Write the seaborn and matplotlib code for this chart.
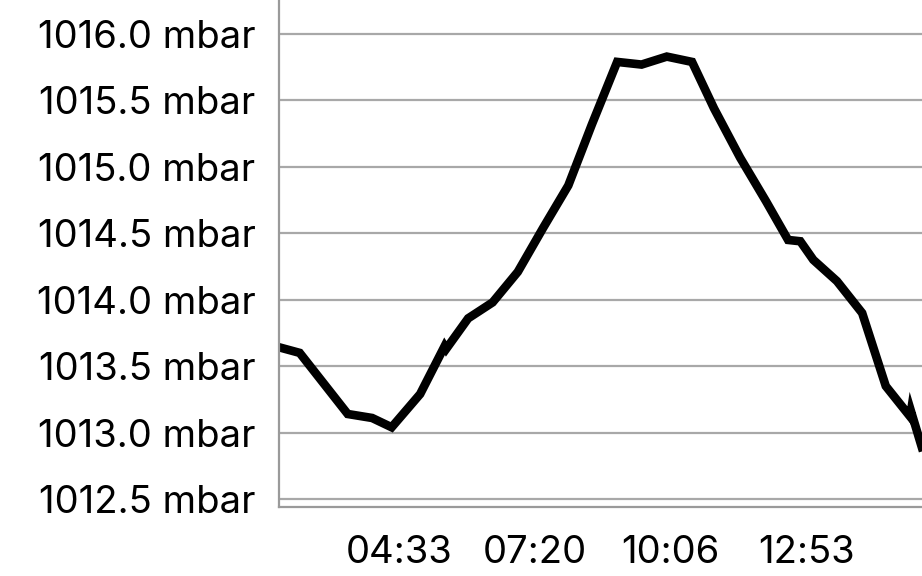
import pandas as pd
import numpy as np
import matplotlib
matplotlib.use('Agg')
import matplotlib.pyplot as plt
import matplotlib.dates as mdates
import seaborn as sns

# readings (local time, pressure in mbar)
times = ["01:55", "02:31", "03:30", "04:00", "04:24", "04:59", "05:29", "05:31",
         "05:58", "06:28", "06:59", "07:30", "08:01", "08:30", "09:01", "09:31",
         "10:02", "10:33", "11:00", "11:32", "12:04", "12:31", "12:46", "13:02",
         "13:31", "14:02", "14:31", "15:01", "15:02", "15:30"]
pressure = [1013.66, 1013.60, 1013.14, 1013.11, 1013.04, 1013.29, 1013.65, 1013.63,
            1013.86, 1013.98, 1014.21, 1014.54, 1014.86, 1015.32, 1015.79, 1015.77,
            1015.83, 1015.79, 1015.44, 1015.07, 1014.74, 1014.45, 1014.44, 1014.30,
            1014.14, 1013.90, 1013.35, 1013.12, 1013.16, 1012.59]
x_ticks = ["04:33", "07:20", "10:06", "12:53"]
y_ticks = [1012.5, 1013.0, 1013.5, 1014.0, 1014.5, 1015.0, 1015.5, 1016.0]

day = "2024-01-01 "
df = pd.DataFrame({
    'time': pd.to_datetime([day + t for t in times]),
    'pressure': pressure,
})

sns.set_style("white")
plt.rcParams['font.family'] = ['Inter', 'DejaVu Sans']

fig = plt.figure(figsize=(9.22, 5.76), dpi=100)
ax = fig.add_axes([0.3026, 0.1198, 0.6974, 0.8802])

sns.lineplot(data=df, x='time', y='pressure', ax=ax, color='black',
             linewidth=6.2, solid_joinstyle='miter', solid_capstyle='butt')

ax.set_xlim(pd.Timestamp(day + "02:05:36"), pd.Timestamp(day + "15:15:30"))
ax.set_ylim(1012.44, 1016.256)

ax.set_yticks(y_ticks)
ax.set_yticklabels([f"{v:.1f} mbar" for v in y_ticks])
ax.set_xticks(pd.to_datetime([day + t for t in x_ticks]))
ax.xaxis.set_major_formatter(mdates.DateFormatter('%H:%M'))

ax.grid(axis='y', color='#a8a8a8', linewidth=1.6)
ax.grid(axis='x', visible=False)
ax.set_axisbelow(True)

for side in ['top', 'right']:
    ax.spines[side].set_visible(False)
for side in ['left', 'bottom']:
    ax.spines[side].set_color('#9a9a9a')
    ax.spines[side].set_linewidth(1.6)

ax.tick_params(axis='y', length=0, pad=17, labelsize=27.5, colors='black')
ax.tick_params(axis='x', length=0, pad=20, labelsize=27.5, colors='black')
ax.set_xlabel("")
ax.set_ylabel("")

plt.savefig("out.png", dpi=100)
plt.close()
